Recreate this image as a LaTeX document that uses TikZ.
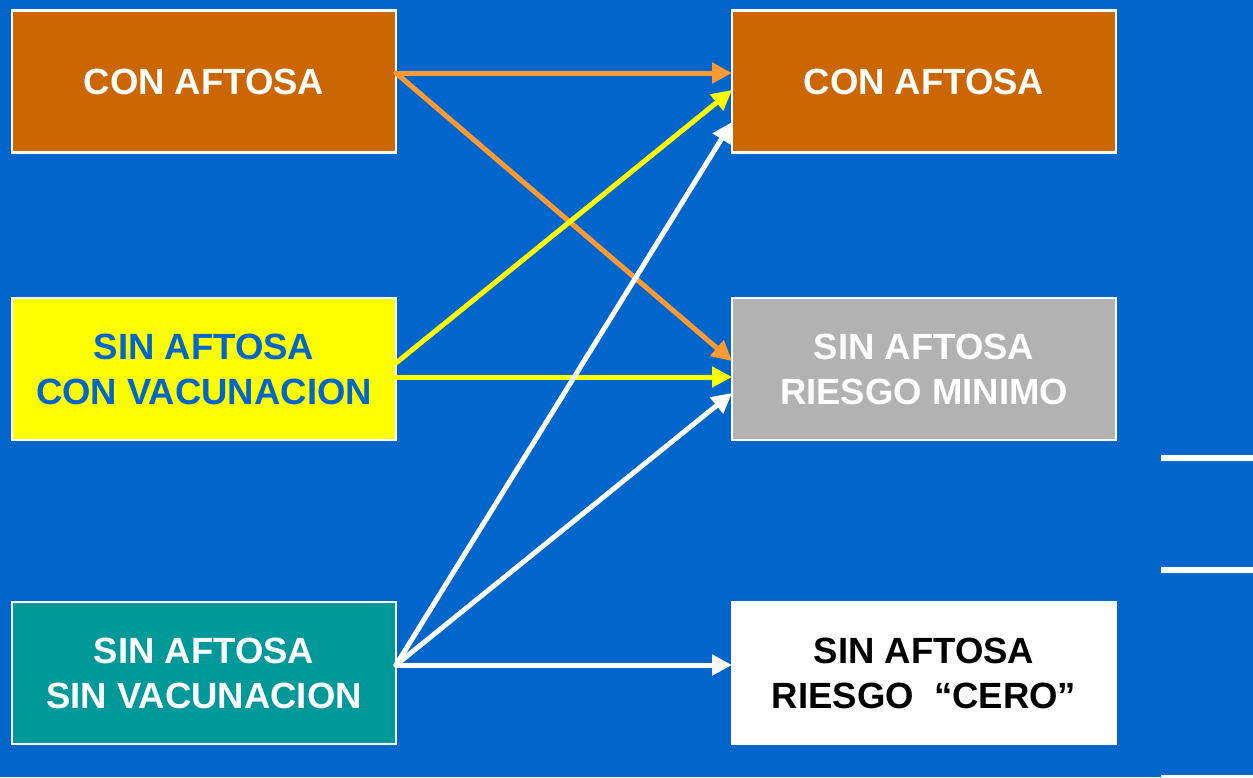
\documentclass[tikz,border=0pt]{standalone}
\usepackage{fontspec}
\setmainfont{Liberation Sans}
\usetikzlibrary{arrows.meta}
\definecolor{bgblue}{HTML}{0066CC}
\definecolor{boxorange}{HTML}{CC6600}
\definecolor{arrorange}{HTML}{FF9933}
\definecolor{boxyellow}{HTML}{FFFF00}
\definecolor{boxteal}{HTML}{009999}
\definecolor{boxgray}{HTML}{B2B2B2}
\begin{document}
\begin{tikzpicture}[x=1pt,y=-1pt,
  statebox/.style={draw=white,line width=2.5pt,minimum width=384pt,minimum height=142pt,
    inner sep=0pt,outer sep=0pt,align=center,font=\bfseries\fontsize{36.5}{45}\selectfont},
  conn/.style={line width=5pt,line cap=round,-{Triangle[length=20pt,width=20pt]}},
  rule/.style={fill=white,draw=none}]
\useasboundingbox[fill=bgblue] (0,0) rectangle (1253,777);
\node[statebox,fill=boxorange,text=white] (a) at (204,81.5) {CON AFTOSA};
\node[statebox,fill=boxyellow,text=bgblue] (b) at (204,369) {SIN AFTOSA\\CON VACUNACION};
\node[statebox,fill=boxteal,text=white] (c) at (204,673) {SIN AFTOSA\\SIN VACUNACION};
\node[statebox,fill=boxorange,text=white] (d) at (924,81.5) {CON AFTOSA};
\node[statebox,fill=boxgray,text=white] (e) at (924,369) {SIN AFTOSA\\RIESGO MINIMO};
\node[statebox,fill=white,text=black] (f) at (924,673) {SIN AFTOSA\\RIESGO\ \ \textquotedblleft CERO\textquotedblright};
% orange
\draw[conn,arrorange] ([yshift=8.5pt]a.east) -- ([yshift=8.5pt]d.west);
\draw[conn,arrorange] ([yshift=8.5pt]a.east) -- ([yshift=8pt]e.west);
% yellow
\draw[conn,boxyellow] ([yshift=6pt]b.east) -- ([yshift=-8.5pt]d.west);
\draw[conn,boxyellow] ([yshift=-8pt]b.east) -- ([yshift=-8pt]e.west);
% white
\draw[conn,white] ([yshift=8pt]c.east) -- ([yshift=-40.5pt]d.west);
\draw[conn,white] ([yshift=8pt]c.east) -- ([yshift=-24pt]e.west);
\draw[conn,white] ([yshift=8pt]c.east) -- ([yshift=8pt]f.west);
% right-edge rules
\fill[rule] (1161,455) rectangle (1253,461);
\fill[rule] (1161,567) rectangle (1253,573);
\fill[rule] (1161,775) rectangle (1253,777);
\end{tikzpicture}
\end{document}
